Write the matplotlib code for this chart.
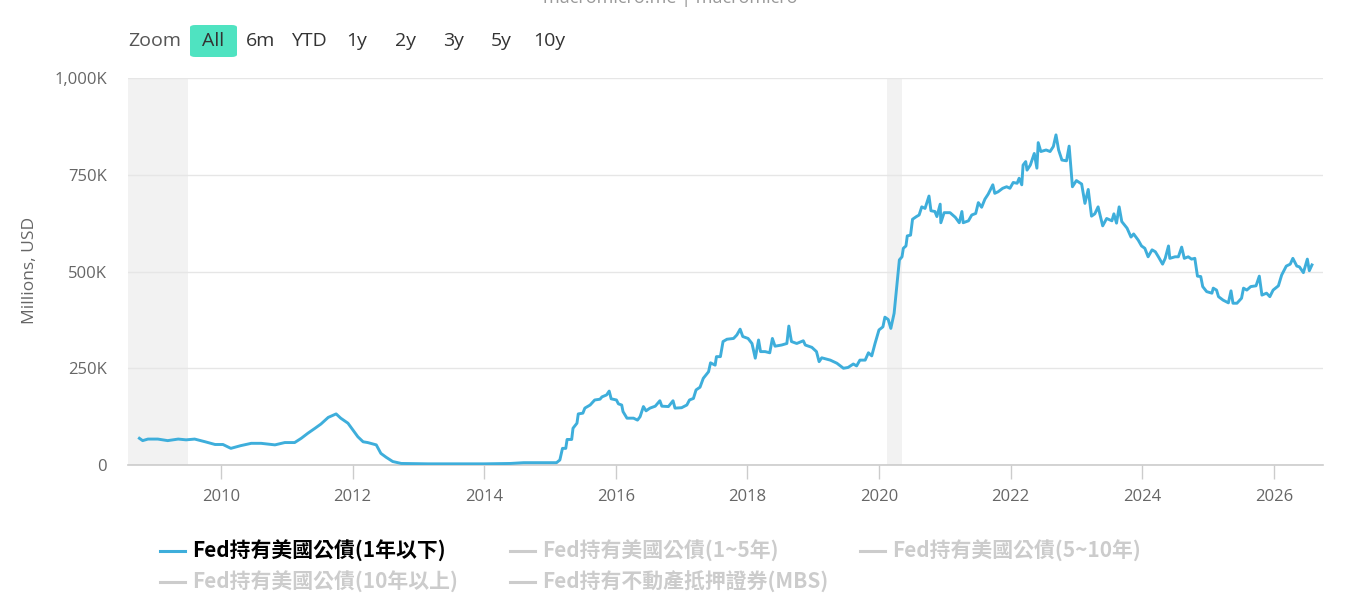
import matplotlib
matplotlib.use("Agg")
import matplotlib.pyplot as plt
from matplotlib.lines import Line2D
from matplotlib.patches import FancyBboxPatch

# Fed holdings of US Treasuries, maturity under 1 year (thousands of millions USD)
years = [
    2008.76, 2008.81, 2008.89, 2009.04, 2009.19, 2009.35, 2009.47, 2009.60, 2009.76, 2009.91,
    2010.03, 2010.15, 2010.30, 2010.46, 2010.61, 2010.82, 2010.97, 2011.12, 2011.22, 2011.32,
    2011.43, 2011.52, 2011.63, 2011.75, 2011.82, 2011.93, 2012.08, 2012.16, 2012.23, 2012.36,
    2012.43, 2012.51, 2012.61, 2012.74, 2013.15, 2013.60, 2014.00, 2014.40, 2014.60, 2014.85,
    2015.10, 2015.15, 2015.19, 2015.24, 2015.26, 2015.33, 2015.35, 2015.41, 2015.43, 2015.50,
    2015.53, 2015.61, 2015.68, 2015.76, 2015.79, 2015.86, 2015.90, 2015.93, 2016.01, 2016.04,
    2016.09, 2016.11, 2016.17, 2016.27, 2016.33, 2016.37, 2016.42, 2016.46, 2016.52, 2016.60,
    2016.67, 2016.70, 2016.80, 2016.87, 2016.90, 2017.00, 2017.08, 2017.12, 2017.18, 2017.22,
    2017.28, 2017.33, 2017.41, 2017.44, 2017.51, 2017.53, 2017.59, 2017.63, 2017.69, 2017.79,
    2017.84, 2017.89, 2017.93, 2018.01, 2018.07, 2018.12, 2018.17, 2018.20, 2018.27, 2018.34,
    2018.38, 2018.42, 2018.52, 2018.60, 2018.63, 2018.67, 2018.75, 2018.85, 2018.88, 2018.98,
    2019.05, 2019.09, 2019.13, 2019.26, 2019.36, 2019.46, 2019.53, 2019.61, 2019.66, 2019.71,
    2019.79, 2019.84, 2019.89, 2019.94, 2020.00, 2020.06, 2020.09, 2020.14, 2020.18, 2020.23,
    2020.27, 2020.31, 2020.35, 2020.37, 2020.41, 2020.43, 2020.48, 2020.51, 2020.57, 2020.61,
    2020.65, 2020.70, 2020.76, 2020.79, 2020.85, 2020.88, 2020.93, 2020.94, 2020.99, 2021.08,
    2021.16, 2021.22, 2021.26, 2021.28, 2021.36, 2021.41, 2021.47, 2021.51, 2021.56, 2021.61,
    2021.66, 2021.73, 2021.76, 2021.81, 2021.88, 2021.94, 2021.99, 2022.04, 2022.10, 2022.13,
    2022.17, 2022.19, 2022.23, 2022.25, 2022.30, 2022.36, 2022.40, 2022.42, 2022.46, 2022.54,
    2022.60, 2022.65, 2022.69, 2022.73, 2022.78, 2022.85, 2022.89, 2022.94, 2023.00, 2023.08,
    2023.13, 2023.18, 2023.23, 2023.28, 2023.33, 2023.40, 2023.46, 2023.54, 2023.57, 2023.61,
    2023.65, 2023.69, 2023.77, 2023.83, 2023.87, 2023.94, 2023.99, 2024.04, 2024.09, 2024.15,
    2024.20, 2024.25, 2024.31, 2024.35, 2024.40, 2024.42, 2024.50, 2024.55, 2024.60, 2024.64,
    2024.70, 2024.75, 2024.80, 2024.84, 2024.89, 2024.92, 2024.98, 2025.06, 2025.08, 2025.13,
    2025.16, 2025.23, 2025.31, 2025.35, 2025.38, 2025.44, 2025.51, 2025.54, 2025.59, 2025.65,
    2025.73, 2025.78, 2025.82, 2025.89, 2025.94, 2025.99, 2026.07, 2026.12, 2026.19, 2026.25,
    2026.29, 2026.35, 2026.39, 2026.45, 2026.51, 2026.54, 2026.58,
]
values = [
    69, 63, 67, 67, 63, 67, 65, 67, 60, 53,
    53, 43, 50, 56, 56, 52, 58, 58, 69, 82,
    95, 106, 123, 132, 121, 108, 73, 60, 58, 52,
    30, 20, 9, 4, 3, 3, 3, 4, 6, 6,
    6, 13, 43, 43, 66, 66, 95, 108, 132, 134,
    147, 155, 168, 170, 176, 181, 191, 171, 168, 158,
    155, 138, 121, 121, 116, 125, 151, 140, 147, 152,
    166, 152, 151, 166, 147, 148, 155, 168, 172, 194,
    201, 224, 241, 264, 258, 280, 280, 319, 325, 327,
    336, 351, 332, 327, 314, 276, 323, 293, 293, 290,
    327, 307, 310, 314, 359, 319, 314, 321, 310, 304,
    293, 267, 277, 271, 263, 250, 252, 261, 256, 271,
    271, 290, 282, 314, 349, 357, 382, 376, 353, 392,
    461, 530, 538, 560, 566, 592, 594, 635, 642, 646,
    667, 663, 695, 657, 655, 642, 674, 626, 652, 652,
    640, 626, 655, 626, 631, 646, 650, 678, 666, 687,
    700, 724, 702, 706, 715, 719, 715, 730, 728, 741,
    724, 775, 784, 762, 775, 805, 767, 833, 810, 814,
    810, 823, 853, 814, 788, 786, 824, 719, 735, 726,
    676, 712, 643, 649, 667, 618, 637, 631, 649, 625,
    667, 629, 612, 589, 597, 581, 566, 560, 538, 556,
    551, 537, 519, 534, 566, 534, 538, 538, 563, 534,
    538, 532, 534, 488, 487, 461, 448, 444, 457, 452,
    435, 426, 419, 450, 418, 418, 431, 457, 452, 461,
    463, 488, 439, 444, 435, 452, 463, 491, 514, 519,
    534, 514, 512, 497, 532, 502, 517,
]

# recession bands (start, end) in years
recessions = [(2007.95, 2009.50), (2020.12, 2020.35)]

year_ticks = [2010, 2012, 2014, 2016, 2018, 2020, 2022, 2024, 2026]
y_ticks = [0, 250, 500, 750, 1000]

zoom_buttons = ["All", "6m", "YTD", "1y", "2y", "3y", "5y", "10y"]
button_x = [213, 261, 309, 357, 405, 453, 501, 549]

legend_labels = [
    "Fed持有美國公債(1年以下)",
    "Fed持有美國公債(1~5年)",
    "Fed持有美國公債(5~10年)",
    "Fed持有美國公債(10年以上)",
    "Fed持有不動產抵押證券(MBS)",
]

LINE_COLOR = "#3eaedb"
W, H = 1347, 600

fig = plt.figure(figsize=(W / 100, H / 100), dpi=100)
ax = fig.add_axes([128 / W, 1 - 465 / H, (1323 - 128) / W, (465 - 78) / H])

for start, end in recessions:
    ax.axvspan(start, end, color="#f2f2f2", lw=0, zorder=0)

ax.plot(years, values, color=LINE_COLOR, lw=2.1, zorder=3)

ax.set_xlim(2008.587, 2026.748)
ax.set_ylim(0, 1000)
ax.set_xticks(year_ticks)
ax.set_xticklabels([str(y) for y in year_ticks])
ax.set_yticks(y_ticks)
ax.set_yticklabels([f"{v:,}K" if v else "0" for v in y_ticks])

ax.grid(axis="y", color="#e6e6e6", lw=1)
ax.set_axisbelow(True)
for side in ["top", "right", "left"]:
    ax.spines[side].set_visible(False)
ax.spines["bottom"].set_color("#cccccc")
ax.spines["bottom"].set_linewidth(1.2)

ax.tick_params(axis="x", length=10, width=1, color="#cccccc", pad=7,
               labelsize=12, labelcolor="#666666")
ax.tick_params(axis="y", length=0, pad=15, labelsize=12, labelcolor="#666666")
for lab in ax.get_xticklabels() + ax.get_yticklabels():
    lab.set_family("Open Sans")

fig.text(30 / W, 1 - 270 / H, "Millions, USD", rotation=90, ha="center", va="center",
         fontsize=12.5, color="#666666", family="Open Sans")

# header, cut off at the top edge like the source
fig.text(670 / W, 1 + 2 / H, "macromicro.me | macromicro", ha="center", va="center",
         fontsize=13, color="#999999", family="Open Sans")

# range selector
fig.text(128 / W, 1 - 41 / H, "Zoom", ha="left", va="center", fontsize=14,
         color="#555555", family="Open Sans")
fig.patches.append(FancyBboxPatch((190 / W, 1 - 57 / H), 47 / W, 32 / H,
                                  boxstyle="round,pad=0,rounding_size=0.004",
                                  transform=fig.transFigure, facecolor="#4fe3c1",
                                  edgecolor="none"))
for label, bx in zip(zoom_buttons, button_x):
    fig.text(bx / W, 1 - 41 / H, label, ha="center", va="center", fontsize=14,
             color="#333333", family="Open Sans")

# legend
legend_pos = [(160, 551), (510, 551), (860, 551), (160, 582), (510, 582)]
for i, (label, (lx, ly)) in enumerate(zip(legend_labels, legend_pos)):
    active = i == 0
    col = LINE_COLOR if active else "#cccccc"
    fig.lines.append(Line2D([lx / W, (lx + 25) / W], [1 - ly / H, 1 - ly / H],
                            transform=fig.transFigure, color=col, lw=2.2))
    fig.text((lx + 32) / W, 1 - ly / H, label, ha="left", va="center", fontsize=15,
             fontweight="bold", color="#000000" if active else "#cccccc",
             family=["Noto Sans CJK TC", "DejaVu Sans"])

fig.savefig("out.png", dpi=100)
